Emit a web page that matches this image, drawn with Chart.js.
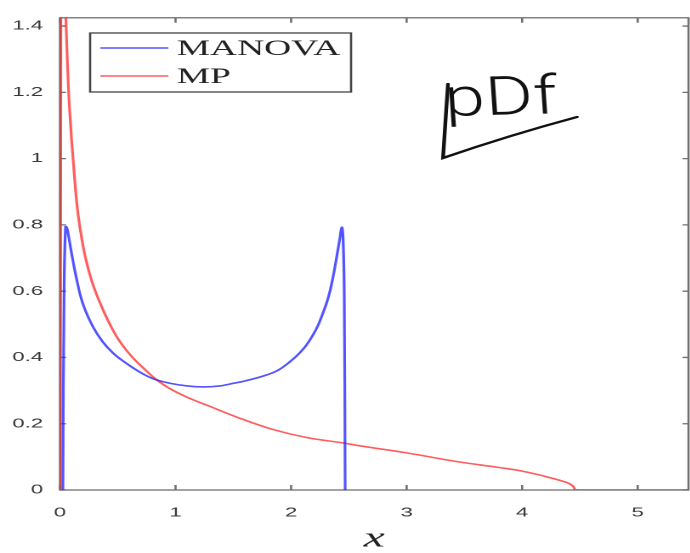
<!DOCTYPE html>
<html>
<head>
<meta charset="utf-8">
<script src="https://cdn.jsdelivr.net/npm/chart.js@4.4.1/dist/chart.umd.min.js"></script>
<style>
  html, body { margin: 0; padding: 0; background: #fff; overflow: hidden; }
  /* the original figure is stretched sideways, so the whole canvas is too */
  #wrap { position: absolute; left: 0; top: 0; width: 406px; height: 553px;
          transform: scaleX(1.7); transform-origin: 0 0; }
</style>
</head>
<body>
<div id="wrap"><canvas id="myChart"></canvas></div>
<script>
var xTicks = [0, 1, 2, 3, 4, 5];
var yTicks = [0, 0.2, 0.4, 0.6, 0.8, 1, 1.2, 1.4];

var manovaX = [0.025, 0.035, 0.048, 0.06, 0.075, 0.095, 0.139, 0.196, 0.283, 0.37, 0.46, 0.55, 0.635, 0.72, 0.82, 0.95, 1.1, 1.24, 1.385, 1.472, 1.6, 1.76, 1.88, 1.99, 2.078, 2.136, 2.19, 2.236, 2.28, 2.309, 2.338, 2.37, 2.396, 2.42, 2.439, 2.45, 2.46, 2.468];
var manovaY = [0, 0.6, 0.795, 0.79, 0.765, 0.724, 0.644, 0.564, 0.494, 0.447, 0.413, 0.388, 0.368, 0.35, 0.334, 0.322, 0.314, 0.311, 0.314, 0.32, 0.329, 0.344, 0.36, 0.387, 0.415, 0.439, 0.468, 0.499, 0.538, 0.566, 0.602, 0.655, 0.706, 0.755, 0.793, 0.76, 0.6, 0];

var mpX = [0.003, 0.012, 0.025, 0.035, 0.045, 0.055, 0.072, 0.09, 0.115, 0.15, 0.19, 0.225, 0.28, 0.34, 0.41, 0.485, 0.543, 0.6, 0.664, 0.74, 0.82, 0.95, 1.1, 1.3, 1.56, 1.85, 2.14, 2.45, 2.6, 3.0, 3.43, 3.8, 4.0, 4.21, 4.39, 4.44, 4.47, 5.44];
var mpY = [0, 3.0, 2.0, 1.7, 1.5, 1.38, 1.22, 1.11, 0.99, 0.85, 0.755, 0.694, 0.625, 0.57, 0.515, 0.466, 0.436, 0.411, 0.387, 0.362, 0.337, 0.306, 0.28, 0.252, 0.216, 0.182, 0.158, 0.142, 0.133, 0.112, 0.086, 0.068, 0.057, 0.04, 0.022, 0.012, 0, 0];

function pts(xs, ys) {
    return xs.map(function (x, i) { return { x: x, y: ys[i] }; });
}

// MATLAB style box with inward ticks
const frame = {
    id: 'frame',
    beforeDatasetsDraw(chart) {
        const ctx = chart.ctx, a = chart.chartArea;
        const sx = chart.scales.x, sy = chart.scales.y;
        ctx.save();
        ctx.strokeStyle = '#707070';
        ctx.lineWidth = 1.3;
        ctx.strokeRect(a.left, a.top, a.right - a.left, a.bottom - a.top);
        ctx.beginPath();
        xTicks.forEach(function (v) {
            const p = sx.getPixelForValue(v);
            ctx.moveTo(p, a.bottom); ctx.lineTo(p, a.bottom - 5);
            ctx.moveTo(p, a.top); ctx.lineTo(p, a.top + 5);
        });
        yTicks.forEach(function (v) {
            const p = sy.getPixelForValue(v);
            ctx.moveTo(a.left, p); ctx.lineTo(a.left + 3.5, p);
            ctx.moveTo(a.right, p); ctx.lineTo(a.right - 3.5, p);
        });
        ctx.stroke();
        ctx.restore();
    }
};

const boxLegend = {
    id: 'boxLegend',
    afterDraw(chart) {
        const ctx = chart.ctx;
        ctx.save();
        ctx.fillStyle = '#fff';
        ctx.fillRect(53, 33, 153.5, 59);
        ctx.strokeStyle = '#444';
        ctx.lineWidth = 1.3;
        ctx.strokeRect(53, 33, 153.5, 59);
        const rows = [48, 76];
        chart.data.datasets.forEach(function (ds, i) {
            ctx.strokeStyle = ds.borderColor;
            ctx.lineWidth = 1.6;
            ctx.beginPath();
            ctx.moveTo(59, rows[i]); ctx.lineTo(99, rows[i]);
            ctx.stroke();
            ctx.fillStyle = '#222';
            ctx.font = '22px "Liberation Serif", serif';
            ctx.textBaseline = 'middle';
            ctx.fillText(ds.label, 104, rows[i] + 1);
        });
        ctx.restore();
    }
};

// handwritten note
const note = {
    id: 'note',
    afterDraw(chart) {
        const ctx = chart.ctx;
        ctx.save();
        ctx.fillStyle = '#111';
        ctx.translate(262, 116);
        ctx.rotate(-0.04);
        ctx.scale(0.8, 1);
        ctx.font = '300 54px Roboto, "Open Sans", sans-serif';
        ctx.textBaseline = 'alphabetic';
        ctx.fillText('pDf', 0, 0);
        ctx.restore();
        ctx.save();
        ctx.strokeStyle = '#111';
        ctx.lineCap = 'round';
        ctx.lineWidth = 2.2;
        ctx.beginPath();
        ctx.moveTo(263.5, 84);
        ctx.lineTo(260.6, 158);
        ctx.quadraticCurveTo(300, 135, 339.4, 117);
        ctx.stroke();
        ctx.restore();
    }
};

const data = {
    datasets: [{
        label: 'MANOVA',
        data: pts(manovaX, manovaY),
        borderColor: 'rgba(40, 40, 255, 0.8)',
        borderWidth: 1.6,
        pointRadius: 0,
        tension: 0.4,
    }, {
        label: 'MP',
        data: pts(mpX, mpY),
        borderColor: 'rgba(255, 40, 40, 0.75)',
        borderWidth: 1.6,
        pointRadius: 0,
        tension: 0.4,
    }]
};

const config = {
    type: 'line',
    data: data,
    options: {
        responsive: true,
        maintainAspectRatio: false,
        animation: false,
        devicePixelRatio: 2,
        layout: { padding: { left: 0, right: 1, top: 14, bottom: 0 } },
        plugins: { legend: { display: false }, tooltip: { enabled: false } },
        scales: {
            x: {
                type: 'linear',
                min: 0,
                max: 5.44,
                grid: { display: false, drawTicks: false },
                border: { display: false },
                afterBuildTicks: function (s) { s.ticks = xTicks.map(function (v) { return { value: v }; }); },
                afterFit: function (s) { s.height = 63; },
                ticks: {
                    padding: 15,
                    color: '#383838',
                    font: { family: '"Liberation Sans", sans-serif', size: 13 },
                    maxRotation: 0,
                },
                title: {
                    display: true,
                    text: 'x',
                    color: '#222',
                    padding: 0,
                    font: { family: '"Liberation Serif", serif', style: 'italic', size: 28, lineHeight: 1 },
                }
            },
            y: {
                min: 0,
                max: 1.425,
                grid: { display: false, drawTicks: false },
                border: { display: false },
                afterBuildTicks: function (s) { s.ticks = yTicks.map(function (v) { return { value: v }; }); },
                afterFit: function (s) { s.width = 35.3; },
                ticks: {
                    padding: 10,
                    color: '#383838',
                    font: { family: '"Liberation Sans", sans-serif', size: 13 },
                    callback: function (v) { return String(Number(v.toFixed(1))); },
                }
            }
        }
    },
    plugins: [frame, boxLegend, note]
};

const myChart = new Chart(
    document.getElementById('myChart'),
    config
);
</script>
</body>
</html>
